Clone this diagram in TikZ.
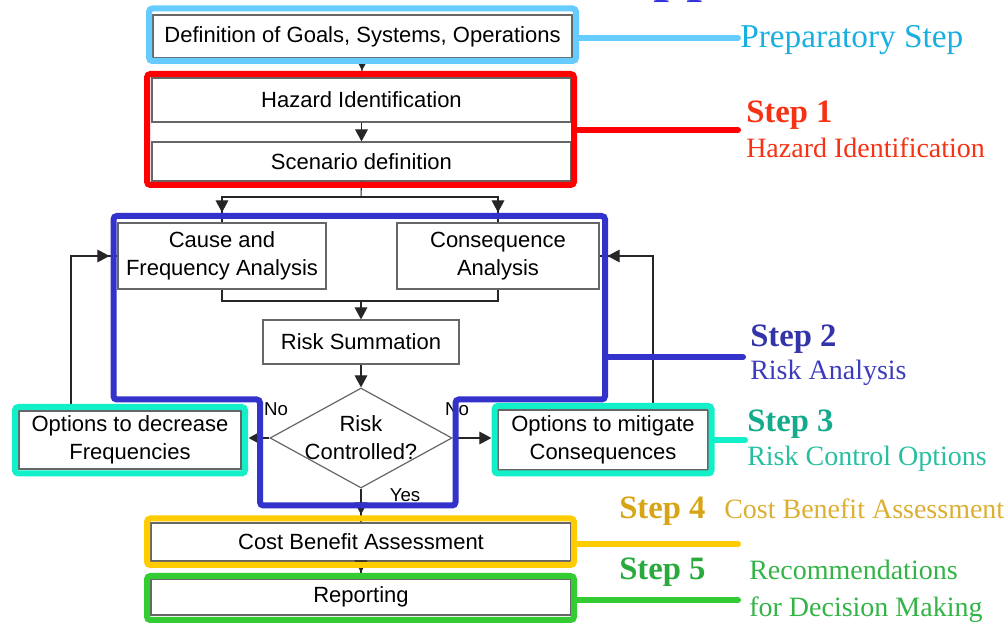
\documentclass[tikz,border=0pt]{standalone}
\usepackage{fontspec}
\setmainfont{Liberation Serif}
\newfontfamily\arialfont{Liberation Sans}
\usetikzlibrary{arrows.meta,shapes.geometric,fit}
\definecolor{prepline}{RGB}{102,204,255}
\definecolor{preptext}{RGB}{25,175,225}
\definecolor{redline}{RGB}{255,0,0}
\definecolor{redtext}{RGB}{245,50,20}
\definecolor{blueline}{RGB}{51,51,204}
\definecolor{bluetext}{RGB}{51,51,170}
\definecolor{bluesub}{RGB}{60,60,190}
\definecolor{tealline}{RGB}{17,240,200}
\definecolor{tealtext}{RGB}{20,170,140}
\definecolor{tealsub}{RGB}{40,190,160}
\definecolor{yelline}{RGB}{255,204,0}
\definecolor{yeltext}{RGB}{215,165,20}
\definecolor{yelsub}{RGB}{220,175,50}
\definecolor{grnline}{RGB}{51,204,51}
\definecolor{grntext}{RGB}{40,170,60}
\definecolor{grnsub}{RGB}{50,180,70}
\definecolor{titleblue}{RGB}{51,51,221}
\newcommand\myboxfont{\arialfont\fontsize{16.5}{21}\selectfont}
\newcommand\mysmallfont{\arialfont\fontsize{14}{16}\selectfont}
\begin{document}
\begin{tikzpicture}[x=0.75pt,y=-0.75pt,
  box/.style={draw=black!60, line width=0.9pt, fill=white, inner sep=0pt},
  boxtext/.style={font=\myboxfont, align=center, inner sep=0pt},
  conn/.style={draw=black!85, line width=0.8pt, -{Triangle[width=9.5pt,length=9pt]}},
  plain/.style={draw=black!85, line width=0.8pt},
  stepframe/.style={draw=#1, line width=4.5pt, rounded corners=2.5pt, inner sep=0pt},
  lead/.style={draw=#1, line width=4.5pt, line cap=round},
  steptitle/.style={font=\bfseries\fontsize{24.5}{28}\selectfont, anchor=base west, inner sep=0pt},
  stepsub/.style={font=\fontsize{21}{25}\selectfont, anchor=base west, inner sep=0pt},
  lbl/.style={font=\mysmallfont, inner sep=0pt}
]
\useasboundingbox (0,0) rectangle (1004,623);

% partially visible title above the page
\node[font=\fontsize{49.5}{55}\selectfont, text=titleblue, anchor=base west, inner sep=0pt] (title) at (606,-11) {Approach};

% boxes
\node[box, fit={(153,15)(572,58)}, label={[boxtext]center:{Definition of Goals, Systems, Operations}}] (def) {};
\node[box, fit={(152,78)(571,122)}, label={[boxtext]center:{Hazard Identification}}] (haz) {};
\node[box, fit={(152,142)(571,181)}, label={[boxtext]center:{Scenario definition}}] (scen) {};
\node[box, fit={(118,223)(326,289)}, label={[boxtext]center:{Cause and\\Frequency Analysis}}] (cause) {};
\node[box, fit={(397,223)(599,289)}, label={[boxtext]center:{Consequence\\Analysis}}] (cons) {};
\node[box, fit={(263,320)(459,364)}, label={[boxtext]center:{Risk Summation}}] (rsum) {};
\node[diamond, draw=black!60, line width=0.9pt, fill=white, minimum width=136.5pt, minimum height=75pt, inner sep=0pt,
  label={[boxtext]center:{Risk\\Controlled?}}] (dia) at (361,438) {};
\node[box, fit={(19,411)(241,469)}, label={[boxtext]center:{Options to decrease\\Frequencies}}] (opt1) {};
\node[box, fit={(498,410)(708,470)}, label={[boxtext]center:{Options to mitigate\\Consequences}}] (opt2) {};
\node[box, fit={(151,523)(571,561)}, label={[boxtext]center:{Cost Benefit Assessment}}] (cost) {};
\node[box, fit={(151,579)(571,615)}, label={[boxtext]center:{Reporting}}] (rep) {};

% connectors
\draw[plain] (def) -- (haz);
\draw[conn, shorten >=5.25pt] (def) -- (haz);
\draw[conn] (haz) -- (scen);
\coordinate (sp) at (361,197);
\draw[plain] (scen.south) -- (sp);
\draw[plain] (sp) -| (cause.north);
\draw[plain] (sp) -| (cons.north);
\draw[conn, shorten >=7.5pt] (sp) -| (cause.north);
\draw[conn, shorten >=7.5pt] (sp) -| (cons.north);
\coordinate (mg) at (361,301);
\draw[plain] (cause.south) |- (mg);
\draw[plain] (cons.south) |- (mg);
\draw[conn] (mg) -- (rsum.north);
\draw[conn] (rsum) -- (dia);
\draw[conn, shorten >=5.25pt] (dia.west) -- (dia.west -| opt1.east);
\draw[conn, shorten >=4.5pt] (dia.east) -- (dia.east -| opt2.west);
\draw[plain] (dia.south) -- (cost.north);
\draw[conn, shorten >=6pt] (dia.south) -- (cost.north);
\draw[plain] (cost) -- (rep);
\draw[conn, shorten >=4.5pt] (cost) -- (rep);
\coordinate (fb1) at (71,256);
\coordinate (fb2) at (653,256);
\draw[plain] (opt1.north -| fb1) -- (fb1) -- (fb1 -| cause.west);
\draw[conn, shorten >=6pt] (opt1.north -| fb1) -- (fb1) -- (fb1 -| cause.west);
\draw[plain] (opt2.north -| fb2) -- (fb2) -- (fb2 -| cons.east);
\draw[conn, shorten >=6pt] (opt2.north -| fb2) -- (fb2) -- (fb2 -| cons.east);

% branch labels
\node[lbl] (no1) at (276,409) {No};
\node[lbl] (no2) at (457,409) {No};
\node[lbl] (yes) at (405,495) {Yes};

% frames
\node[stepframe=prepline, fit={(149,8.5)(576,61)}] (f0) {};
\node[stepframe=redline, fit={(147,74)(574,185)}] (f1) {};
\draw[stepframe=blueline] (113.5,216) -- (605,216) -- (605,399.5) -- (455.5,399.5) -- (455.5,505.5)
  -- (260,505.5) -- (260,399.5) -- (113.5,399.5) -- cycle;
\node[stepframe=tealline, fit={(15,407)(245,473.5)}] (f3a) {};
\node[stepframe=tealline, fit={(494.5,406)(711.5,473.5)}] (f3b) {};
\node[stepframe=yelline, fit={(147,518.5)(574,565)}] (f4) {};
\node[stepframe=grnline, fit={(147,576)(574,620)}] (f5) {};

% leads
\coordinate (e0) at (738,38);
\coordinate (e1) at (738,130);
\coordinate (b2) at (605,357);
\coordinate (e2) at (743,357);
\coordinate (e3) at (745,440);
\coordinate (e4) at (738,544);
\coordinate (e5) at (738,600);
\draw[lead=prepline] (f0.east |- e0) -- (e0);
\draw[lead=redline] (f1.east |- e1) -- (e1);
\draw[lead=blueline] (b2) -- (e2);
\draw[lead=tealline] (f3b.east |- e3) -- (e3);
\draw[lead=yelline] (f4.east |- e4) -- (e4);
\draw[lead=grnline] (f5.east |- e5) -- (e5);

% step labels
\node[font=\fontsize{25}{29}\selectfont, text=preptext, anchor=base west, inner sep=0pt] (t0) at (740,48) {Preparatory Step};
\node[steptitle, text=redtext] (t1) at (746,123) {Step 1};
\node[stepsub, text=redtext] (s1) at (746,158) {Hazard Identification};
\node[steptitle, text=bluetext] (t2) at (750,347) {Step 2};
\node[stepsub, text=bluesub] (s2) at (750,380) {Risk Analysis};
\node[steptitle, text=tealtext] (t3) at (747,432) {Step 3};
\node[stepsub, text=tealsub] (s3) at (747,466) {Risk Control Options};
\node[steptitle, text=yeltext] (t4) at (619,519) {Step 4};
\node[stepsub, text=yelsub] (s4) at (724,519) {Cost Benefit Assessment};
\node[steptitle, text=grntext] (t5) at (619,580) {Step 5};
\node[stepsub, text=grnsub] (s5a) at (749,580) {Recommendations};
\node[stepsub, text=grnsub] (s5b) at (749,617) {for Decision Making};
\end{tikzpicture}
\end{document}
